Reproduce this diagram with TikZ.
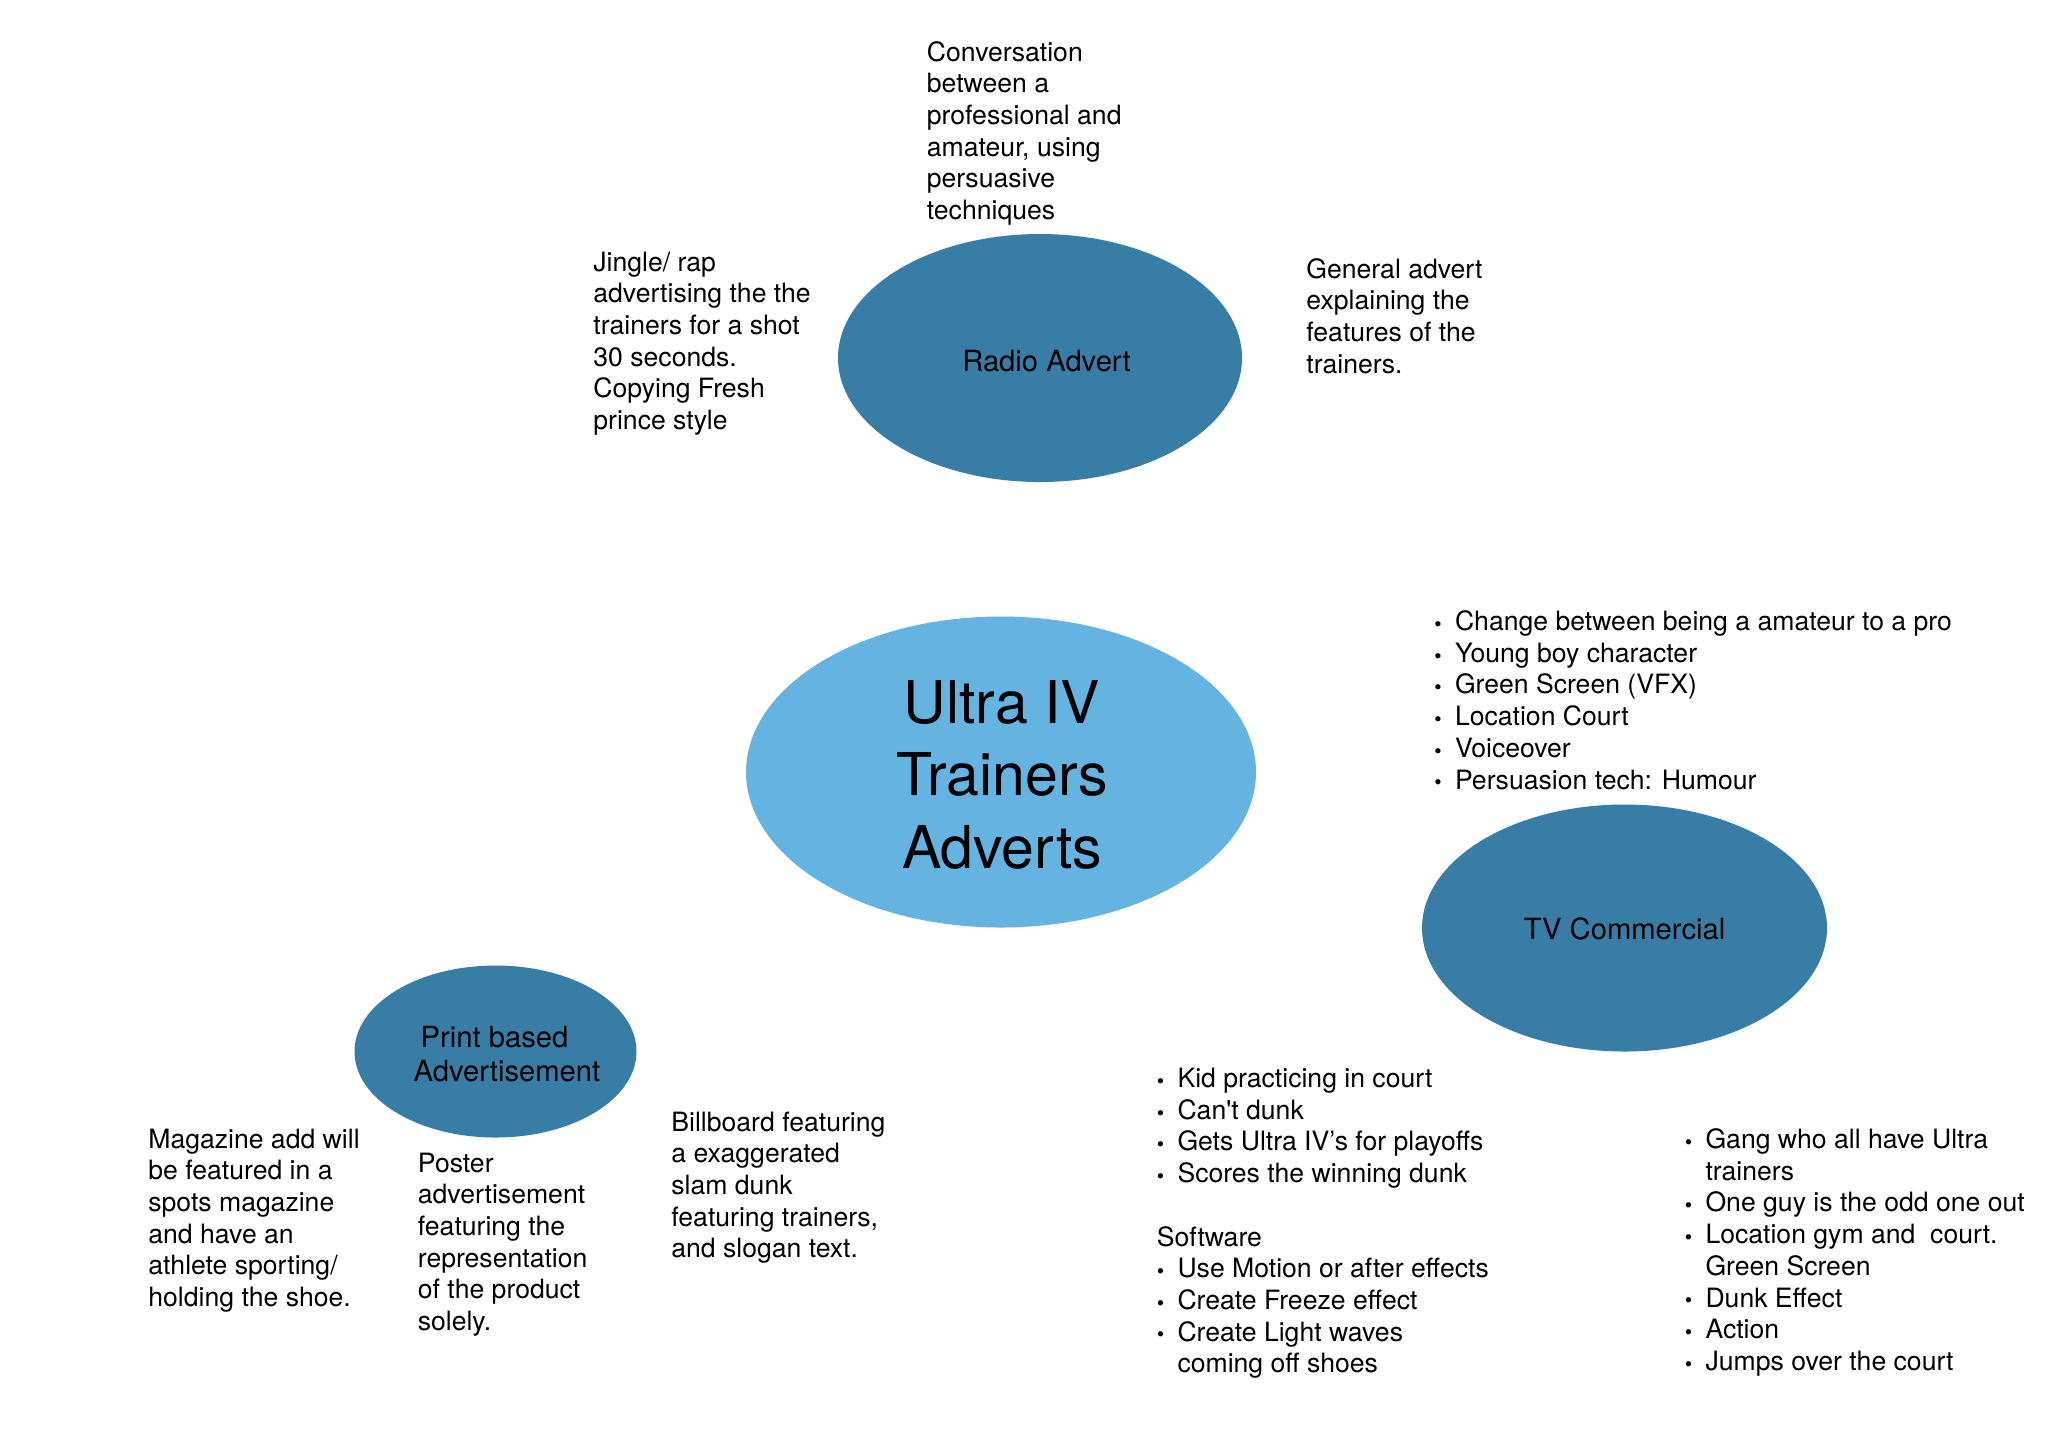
\documentclass[tikz,border=0pt]{standalone}
\usepackage{fontspec}
\setmainfont{TeX Gyre Heros}
\usetikzlibrary{shapes.geometric}
\definecolor{darkell}{HTML}{387DA5}
\definecolor{lightell}{HTML}{65B3E0}
\newcommand{\txtblock}[1]{\begin{tabular}[t]{@{}l@{}}#1\end{tabular}}
\newcommand{\bul}{\makebox[10.3pt][l]{\raisebox{-0.4pt}{\fontsize{10.5}{10.5}\selectfont\textbullet}}}
\newcommand{\bulind}{\hspace*{10.3pt}}
\begin{document}
\begin{tikzpicture}[x=0.5pt,y=-0.5pt,
  ell/.style={ellipse, draw=none, inner sep=0pt},
  body/.style={anchor=base west, inner sep=0pt, font=\fontsize{13.3}{15.85}\selectfont},
  lbl/.style={anchor=base, inner sep=0pt, font=\fontsize{14.6}{17}\selectfont}]
\useasboundingbox[fill=white] (0,0) rectangle (2048,1447);
% ellipses
\node[ell, fill=darkell, minimum width=202pt, minimum height=124pt] (radio) at (1040,358) {};
\node[ell, fill=lightell, minimum width=255pt, minimum height=155.5pt] (center) at (1001,772) {};
\node[ell, fill=darkell, minimum width=202.5pt, minimum height=123.5pt] (tv) at (1624.5,928) {};
\node[ell, fill=darkell, minimum width=141pt, minimum height=86pt] (print) at (495.5,1051.5) {};
% ellipse labels
\node[lbl] (radiolbl) at (1046.5,371.5) {Radio Advert};
\node[lbl] (tvlbl) at (1624.6,939.5) {TV Commercial};
\node[lbl] (printlbl) at (507,1047) {\begin{tabular}[t]{@{}c@{}}Print based\hspace*{12.5pt}\\Advertisement\end{tabular}};
\node[anchor=base, inner sep=0pt, font=\fontsize{29.5}{36.15}\selectfont] (centerlbl) at (1002,723.5)
  {\begin{tabular}[t]{@{}c@{}}Ultra IV\\Trainers\\Adverts\end{tabular}};
% text blocks
\node[body] (conv) at (926.5,61) {\txtblock{Conversation\\between a\\professional and\\amateur, using\\persuasive\\techniques}};
\node[body] (jingle) at (593,271) {\txtblock{Jingle/ rap\\advertising the the\\trainers for a shot\\30 seconds.\\Copying Fresh\\prince style}};
\node[body] (general) at (1306,278) {\txtblock{General advert\\explaining the\\features of the\\trainers.}};
\node[body] (tvlist) at (1434,630.5) {\txtblock{\bul Change between being a amateur to a pro\\\bul Young boy character\\\bul Green Screen (VFX)\\\bul Location Court\\\bul Voiceover\\\bul Persuasion tech: Humour}};
\node[body] (kid) at (1156.5,1087.5) {\txtblock{\bul Kid practicing in court\\\bul Can\textquotesingle t dunk\\\bul Gets Ultra IV’s for playoffs\\\bul Scores the winning dunk\\\mbox{}\\Software\\\bul Use Motion or after effects\\\bul Create Freeze effect\\\bul Create Light waves\\\bulind coming off shoes}};
\node[body] (gang) at (1684.5,1148.5) {\txtblock{\bul Gang who all have Ultra\\\bulind trainers\\\bul One guy is the odd one out\\\bul Location gym and~ court.\\\bulind Green Screen\\\bul Dunk Effect\\\bul Action\\\bul Jumps over the court}};
\node[body] (magazine) at (148,1148) {\txtblock{Magazine add will\\be featured in a\\spots magazine\\and have an\\athlete sporting/\\holding the shoe.}};
\node[body] (poster) at (417.5,1172) {\txtblock{Poster\\advertisement\\featuring the\\representation\\of the product\\solely.}};
\node[body] (billboard) at (671,1131) {\txtblock{Billboard featuring\\a exaggerated\\slam dunk\\featuring trainers,\\and slogan text.}};
\end{tikzpicture}
\end{document}
